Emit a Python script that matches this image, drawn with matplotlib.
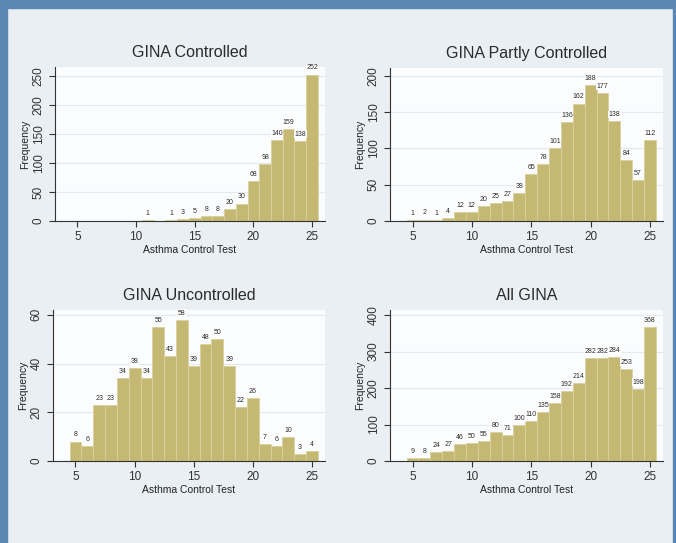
import numpy as np
import matplotlib
matplotlib.use('Agg')
import matplotlib.pyplot as plt
from matplotlib.patches import Rectangle

plt.rcParams['font.family'] = ['Liberation Sans', 'DejaVu Sans']

# Asthma Control Test score (discrete bins)
act = np.arange(5, 26)

controlled = [0, 0, 0, 0, 0, 0, 1, 0, 1, 3, 5, 8, 8, 20, 30, 68, 98, 140, 159, 138, 252]
partly = [1, 2, 1, 4, 12, 12, 20, 25, 27, 38, 65, 78, 101, 136, 162, 188, 177, 138, 84, 57, 112]
uncontrolled = [8, 6, 23, 23, 34, 38, 34, 55, 43, 58, 39, 48, 50, 39, 22, 26, 7, 6, 10, 3, 4]
all_gina = [9, 8, 24, 27, 46, 50, 55, 80, 71, 100, 110, 135, 158, 192, 214, 282, 282, 284, 253, 198, 368]

titles = ['GINA Controlled', 'GINA Partly Controlled', 'GINA Uncontrolled', 'All GINA']
series = [controlled, partly, uncontrolled, all_gina]
yticks = [[0, 50, 100, 150, 200, 250], [0, 50, 100, 150, 200],
          [0, 20, 40, 60], [0, 100, 200, 300, 400]]
ytops = [265, 211, 62, 414]

W, H = 676, 543
bg = '#e9eff2'
frame = '#5a86b4'
bar_col = '#c4b872'

fig = plt.figure(figsize=(W / 100, H / 100), dpi=100, facecolor=bg)

# blue frame of the screenshot
fig.patches.append(Rectangle((0, 1 - 8 / H), 1, 8 / H, transform=fig.transFigure,
                             color=frame, zorder=0))
fig.patches.append(Rectangle((0, 0), 7 / W, 1, transform=fig.transFigure,
                             color=frame, zorder=0))
fig.patches.append(Rectangle((1 - 3 / W, 0), 3 / W, 1, transform=fig.transFigure,
                             color=frame, zorder=0))

# axes boxes in pixels: left, right, top, bottom
boxes = [(55, 325, 67, 221), (390, 663, 68, 221),
         (53, 325, 310, 461), (390, 663, 310, 461)]


def px_axes(l, r, t, b):
    return fig.add_axes([l / W, (H - b) / H, (r - l) / W, (b - t) / H])


for i in range(4):
    ax = px_axes(*boxes[i])
    vals = series[i]
    ax.set_facecolor('#fbfcfd')
    ax.bar(act, vals, width=1.0, color=bar_col, edgecolor='#d9d19c',
           linewidth=0.6, zorder=2)
    for x, v in zip(act, vals):
        if v > 0:
            ax.text(x, v + ytops[i] * 0.02, str(v), ha='center', va='bottom',
                    fontsize=5, color='#2a2a2a', zorder=3,
                    bbox=dict(boxstyle='square,pad=0.05', fc='white', ec='none'))
    ax.set_xlim(3.1, 26.1)
    ax.set_ylim(0, ytops[i])
    ax.set_xticks([5, 10, 15, 20, 25])
    ax.set_yticks(yticks[i])
    ax.set_yticklabels([str(t) for t in yticks[i]], rotation=90, va='center')
    ax.tick_params(labelsize=8.5, colors='#333333', length=4, width=0.8)
    ax.grid(axis='y', color='#e4e9ec', linewidth=0.8, zorder=0)
    for s in ['top', 'right']:
        ax.spines[s].set_visible(False)
    for s in ['left', 'bottom']:
        ax.spines[s].set_color('#333333')
        ax.spines[s].set_linewidth(0.8)
    ax.set_title(titles[i], fontsize=11.5, color='#2b2b2b', pad=7)
    ax.set_ylabel('Frequency', fontsize=7.5, color='#222222', labelpad=2)
    ax.set_xlabel('Asthma Control Test', fontsize=7.5, color='#222222', labelpad=1)

fig.savefig('out.png', dpi=100, facecolor=fig.get_facecolor())
